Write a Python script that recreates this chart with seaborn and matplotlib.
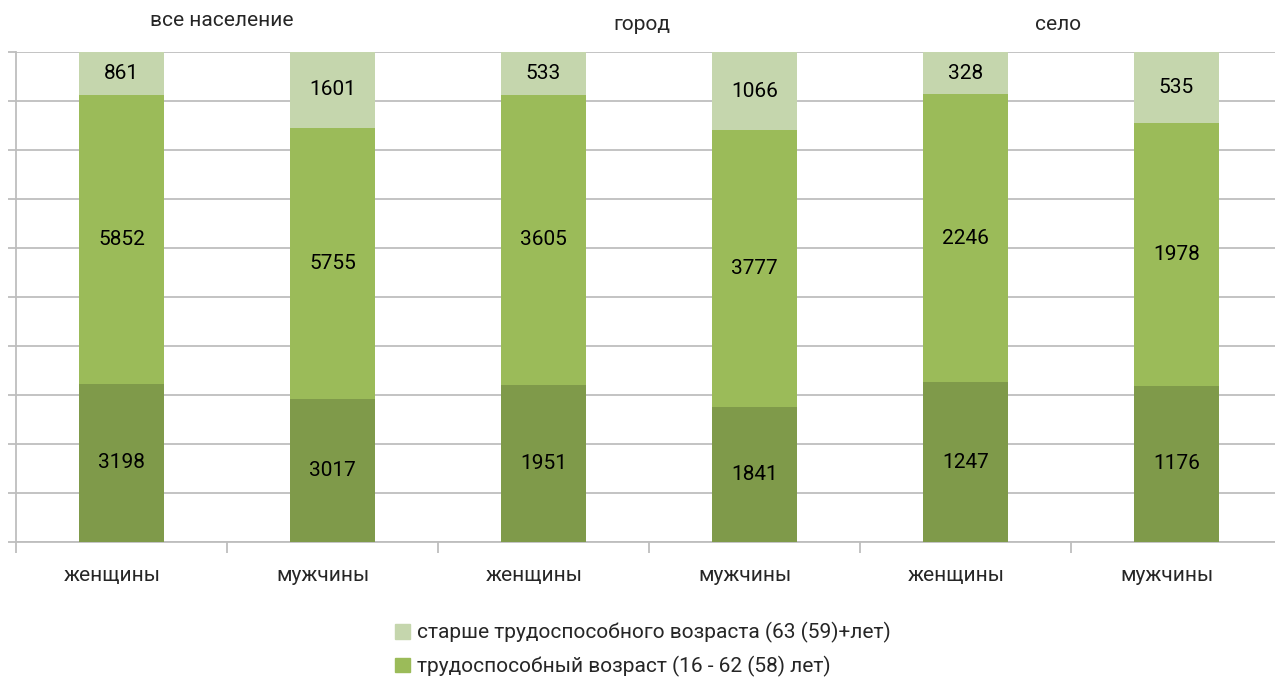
import pandas as pd
import matplotlib
matplotlib.use("Agg")
import matplotlib.pyplot as plt
import matplotlib.transforms as mtransforms
import seaborn as sns

# --- data ---
groups = ["все население", "город", "село"]
sexes = ["женщины", "мужчины", "женщины", "мужчины", "женщины", "мужчины"]
young = [3198, 3017, 1951, 1841, 1247, 1176]
working = [5852, 5755, 3605, 3777, 2246, 1978]
old = [861, 1601, 533, 1066, 328, 535]
series_names = [
    "старше трудоспособного возраста (63 (59)+лет)",
    "трудоспособный возраст (16 - 62 (58) лет)",
]
colors = ["#C5D6AD", "#9BBB59", "#7F9A4A"]

df = pd.DataFrame({"bar": range(6), "sex": sexes, "young": young,
                   "working": working, "old": old})
total = df["young"] + df["working"] + df["old"]
df["c1"] = df["young"] / total
df["c2"] = (df["young"] + df["working"]) / total
df["c3"] = (df["young"] + df["working"] + df["old"]) / total

sns.set_style("white")
plt.rcParams["font.family"] = ["Roboto", "DejaVu Sans"]

fig = plt.figure(figsize=(12.75, 6.77), dpi=100)
ax = fig.add_axes([16 / 1275, 135 / 677, 1266 / 1275, 490 / 677])

# layered bars: draw cumulative tops, largest first
for col, color in zip(["c3", "c2", "c1"], colors):
    sns.barplot(data=df, x="bar", y=col, color=color, width=0.4,
                saturation=1, linewidth=0, ax=ax, zorder=3)

# segment value labels
fs = 15
for i, row in df.iterrows():
    ax.text(i, row["c1"] / 2, str(row["young"]), ha="center", va="center",
            fontsize=fs, color="black", zorder=5)
    ax.text(i, (row["c1"] + row["c2"]) / 2, str(row["working"]), ha="center",
            va="center", fontsize=fs, color="black", zorder=5)
    ax.text(i, (row["c2"] + row["c3"]) / 2, str(row["old"]), ha="center",
            va="center", fontsize=fs, color="black", zorder=5)

ax.set_xlim(-0.5, 5.5)
ax.set_ylim(0, 1)
ax.set_xlabel("")
ax.set_ylabel("")

# gridlines
ax.set_yticks([i / 10 for i in range(11)])
ax.set_yticklabels([])
ax.yaxis.grid(True, color="#BEBEBE", linewidth=1.3, zorder=0)
ax.set_axisbelow(True)
ax.tick_params(axis="y", direction="out", length=6, width=1.3, color="#BEBEBE",
               left=True)

ax.set_xticks(range(6))
ax.set_xticklabels(sexes, fontsize=fs)
ax.set_xticks([i - 0.5 for i in range(7)], minor=True)
ax.tick_params(axis="x", which="major", length=0, pad=17)
ax.tick_params(axis="x", which="minor", direction="out", length=8, width=1.3,
               color="#BEBEBE", bottom=True)
shift = mtransforms.ScaledTranslation(-9 / 100, 0, fig.dpi_scale_trans)
for lbl in ax.get_xticklabels():
    lbl.set_transform(lbl.get_transform() + shift)

for side in ["top", "right"]:
    ax.spines[side].set_visible(False)
for side in ["left", "bottom"]:
    ax.spines[side].set_color("#BEBEBE")
    ax.spines[side].set_linewidth(1.3)

# group titles
fig.text(222 / 1275, 1 - 20 / 677, groups[0], ha="center", va="center", fontsize=fs)
fig.text(642 / 1275, 1 - 25 / 677, groups[1], ha="center", va="center", fontsize=fs)
fig.text(1058 / 1275, 1 - 24 / 677, groups[2], ha="center", va="center", fontsize=fs)

# legend
handles = [plt.Rectangle((0, 0), 1, 1, color=c) for c in colors[:2]]
fig.legend(handles, series_names, loc="upper left",
           bbox_to_anchor=(387 / 1275, 1 - 614 / 677), frameon=False,
           fontsize=fs, handlelength=0.7, handleheight=0.7,
           handletextpad=0.35, labelspacing=0.6, borderaxespad=0)

fig.savefig("out.png", dpi=100)
